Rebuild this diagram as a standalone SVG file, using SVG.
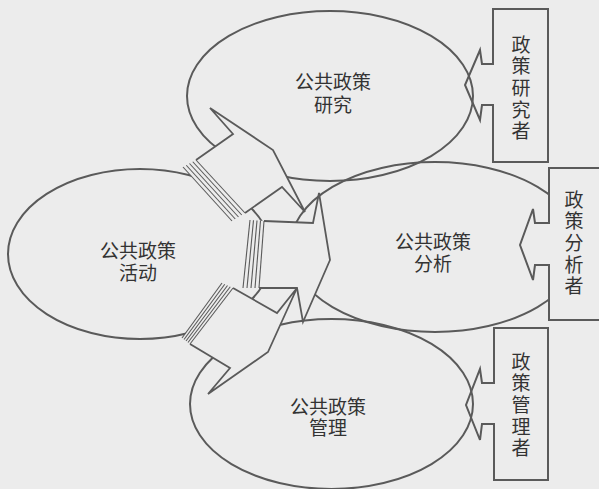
<svg xmlns="http://www.w3.org/2000/svg" width="599" height="489" viewBox="0 0 599 489">
<style>
.bg{fill:#ececec}
.el{fill:none;stroke:#5a5a5a;stroke-width:2}
.af{fill:#ececec;stroke:none}
.ao{fill:none;stroke:#5a5a5a;stroke-width:1.8;stroke-linejoin:miter}
.st{stroke:#5a5a5a;stroke-width:1.1;fill:none}
.bx{fill:none;stroke:#5a5a5a;stroke-width:2}
.bxf{fill:#ececec;stroke:#5a5a5a;stroke-width:2}
.t{font-family:"Noto Sans CJK SC","Noto Sans",sans-serif;font-size:19px;fill:#333;text-anchor:middle;dominant-baseline:central}
.v{font-family:"Noto Sans CJK SC","Noto Sans",sans-serif;font-size:19px;fill:#333;text-anchor:middle;writing-mode:vertical-rl;letter-spacing:2.6px}
</style>
<rect class="bg" x="0" y="0" width="599" height="489"/>
<g id="ellipses">
<ellipse id="e-research" class="el" cx="330" cy="96" rx="143" ry="85"/>
<ellipse id="e-activity" class="el" cx="140" cy="254" rx="132" ry="85"/>
<ellipse id="e-analysis" class="el" cx="435" cy="247" rx="145" ry="85"/>
<ellipse id="e-management" class="el" cx="331.5" cy="404" rx="141.5" ry="85"/>
</g>
<g id="connectors">
<g id="arrow-research">
<polygon class="af" points="183,167 196,160 233,134 210,108 273,150 305,212 282,187 245,213 232,221"/>
<polyline class="ao" points="196,160 233,134 210,108 273,150 305,212 282,187 245,213"/>
<line class="st" x1="183" y1="167" x2="232" y2="221"/>
<line class="st" x1="186.25" y1="165.25" x2="235.25" y2="219"/>
<line class="st" x1="189.5" y1="163.5" x2="238.5" y2="217"/>
<line class="st" x1="192.75" y1="161.75" x2="241.75" y2="215"/>
<line class="st" x1="196" y1="160" x2="245" y2="213"/>
</g>
<g id="arrow-analysis">
<polygon class="af" points="250,220 264,221 313,223 319,193 330,260 303,322 297,288 259,288 243,288"/>
<polyline class="ao" points="264,221 313,223 319,193 330,260 303,322 297,288 259,288"/>
<line class="st" x1="250" y1="220" x2="243" y2="288"/>
<line class="st" x1="253.5" y1="220.25" x2="247" y2="288"/>
<line class="st" x1="257" y1="220.5" x2="251" y2="288"/>
<line class="st" x1="260.5" y1="220.75" x2="255" y2="288"/>
<line class="st" x1="264" y1="221" x2="259" y2="288"/>
</g>
<g id="arrow-management">
<polygon class="af" points="222,283 233,288 277,313 297,288 268,352 208,394 230,368 190,344 182,338"/>
<polyline class="ao" points="233,288 277,313 297,288 268,352 208,394 230,368 190,344"/>
<line class="st" x1="222" y1="283" x2="182" y2="338"/>
<line class="st" x1="224.75" y1="284.25" x2="184" y2="339.5"/>
<line class="st" x1="227.5" y1="285.5" x2="186" y2="341"/>
<line class="st" x1="230.25" y1="286.75" x2="188" y2="342.5"/>
<line class="st" x1="233" y1="288" x2="190" y2="344"/>
</g>
</g>
<g id="box-researcher">
<path class="bx" d="M493,9 H548 V162 H493 V105 H482 L480,120 L465,85 L480,50 L482,64 H493 Z"/>
<text class="v" x="521" y="89">政策研究者</text>
</g>
<g id="box-analyst">
<path class="bxf" d="M549,168 H625 V320 H549 V265 H535 L533,280 L520,245 L533,209 L535,223 H549 Z"/>
<text class="v" x="574" y="244">政策分析者</text>
</g>
<g id="box-manager">
<path class="bx" d="M494,328 H548 V480 H494 V424 H482 L480,440 L466,405 L480,369 L482,383 H494 Z"/>
<text class="v" x="521" y="406">政策管理者</text>
</g>
<g id="node-research">
<text class="t" x="333" y="80">公共政策<tspan x="333" dy="23">研究</tspan></text>
</g>
<g id="node-activity">
<text class="t" x="138" y="249">公共政策<tspan x="138" dy="22">活动</tspan></text>
</g>
<g id="node-analysis">
<text class="t" x="433" y="240">公共政策<tspan x="433" dy="22">分析</tspan></text>
</g>
<g id="node-management">
<text class="t" x="328" y="405">公共政策<tspan x="328" dy="21">管理</tspan></text>
</g>
</svg>
